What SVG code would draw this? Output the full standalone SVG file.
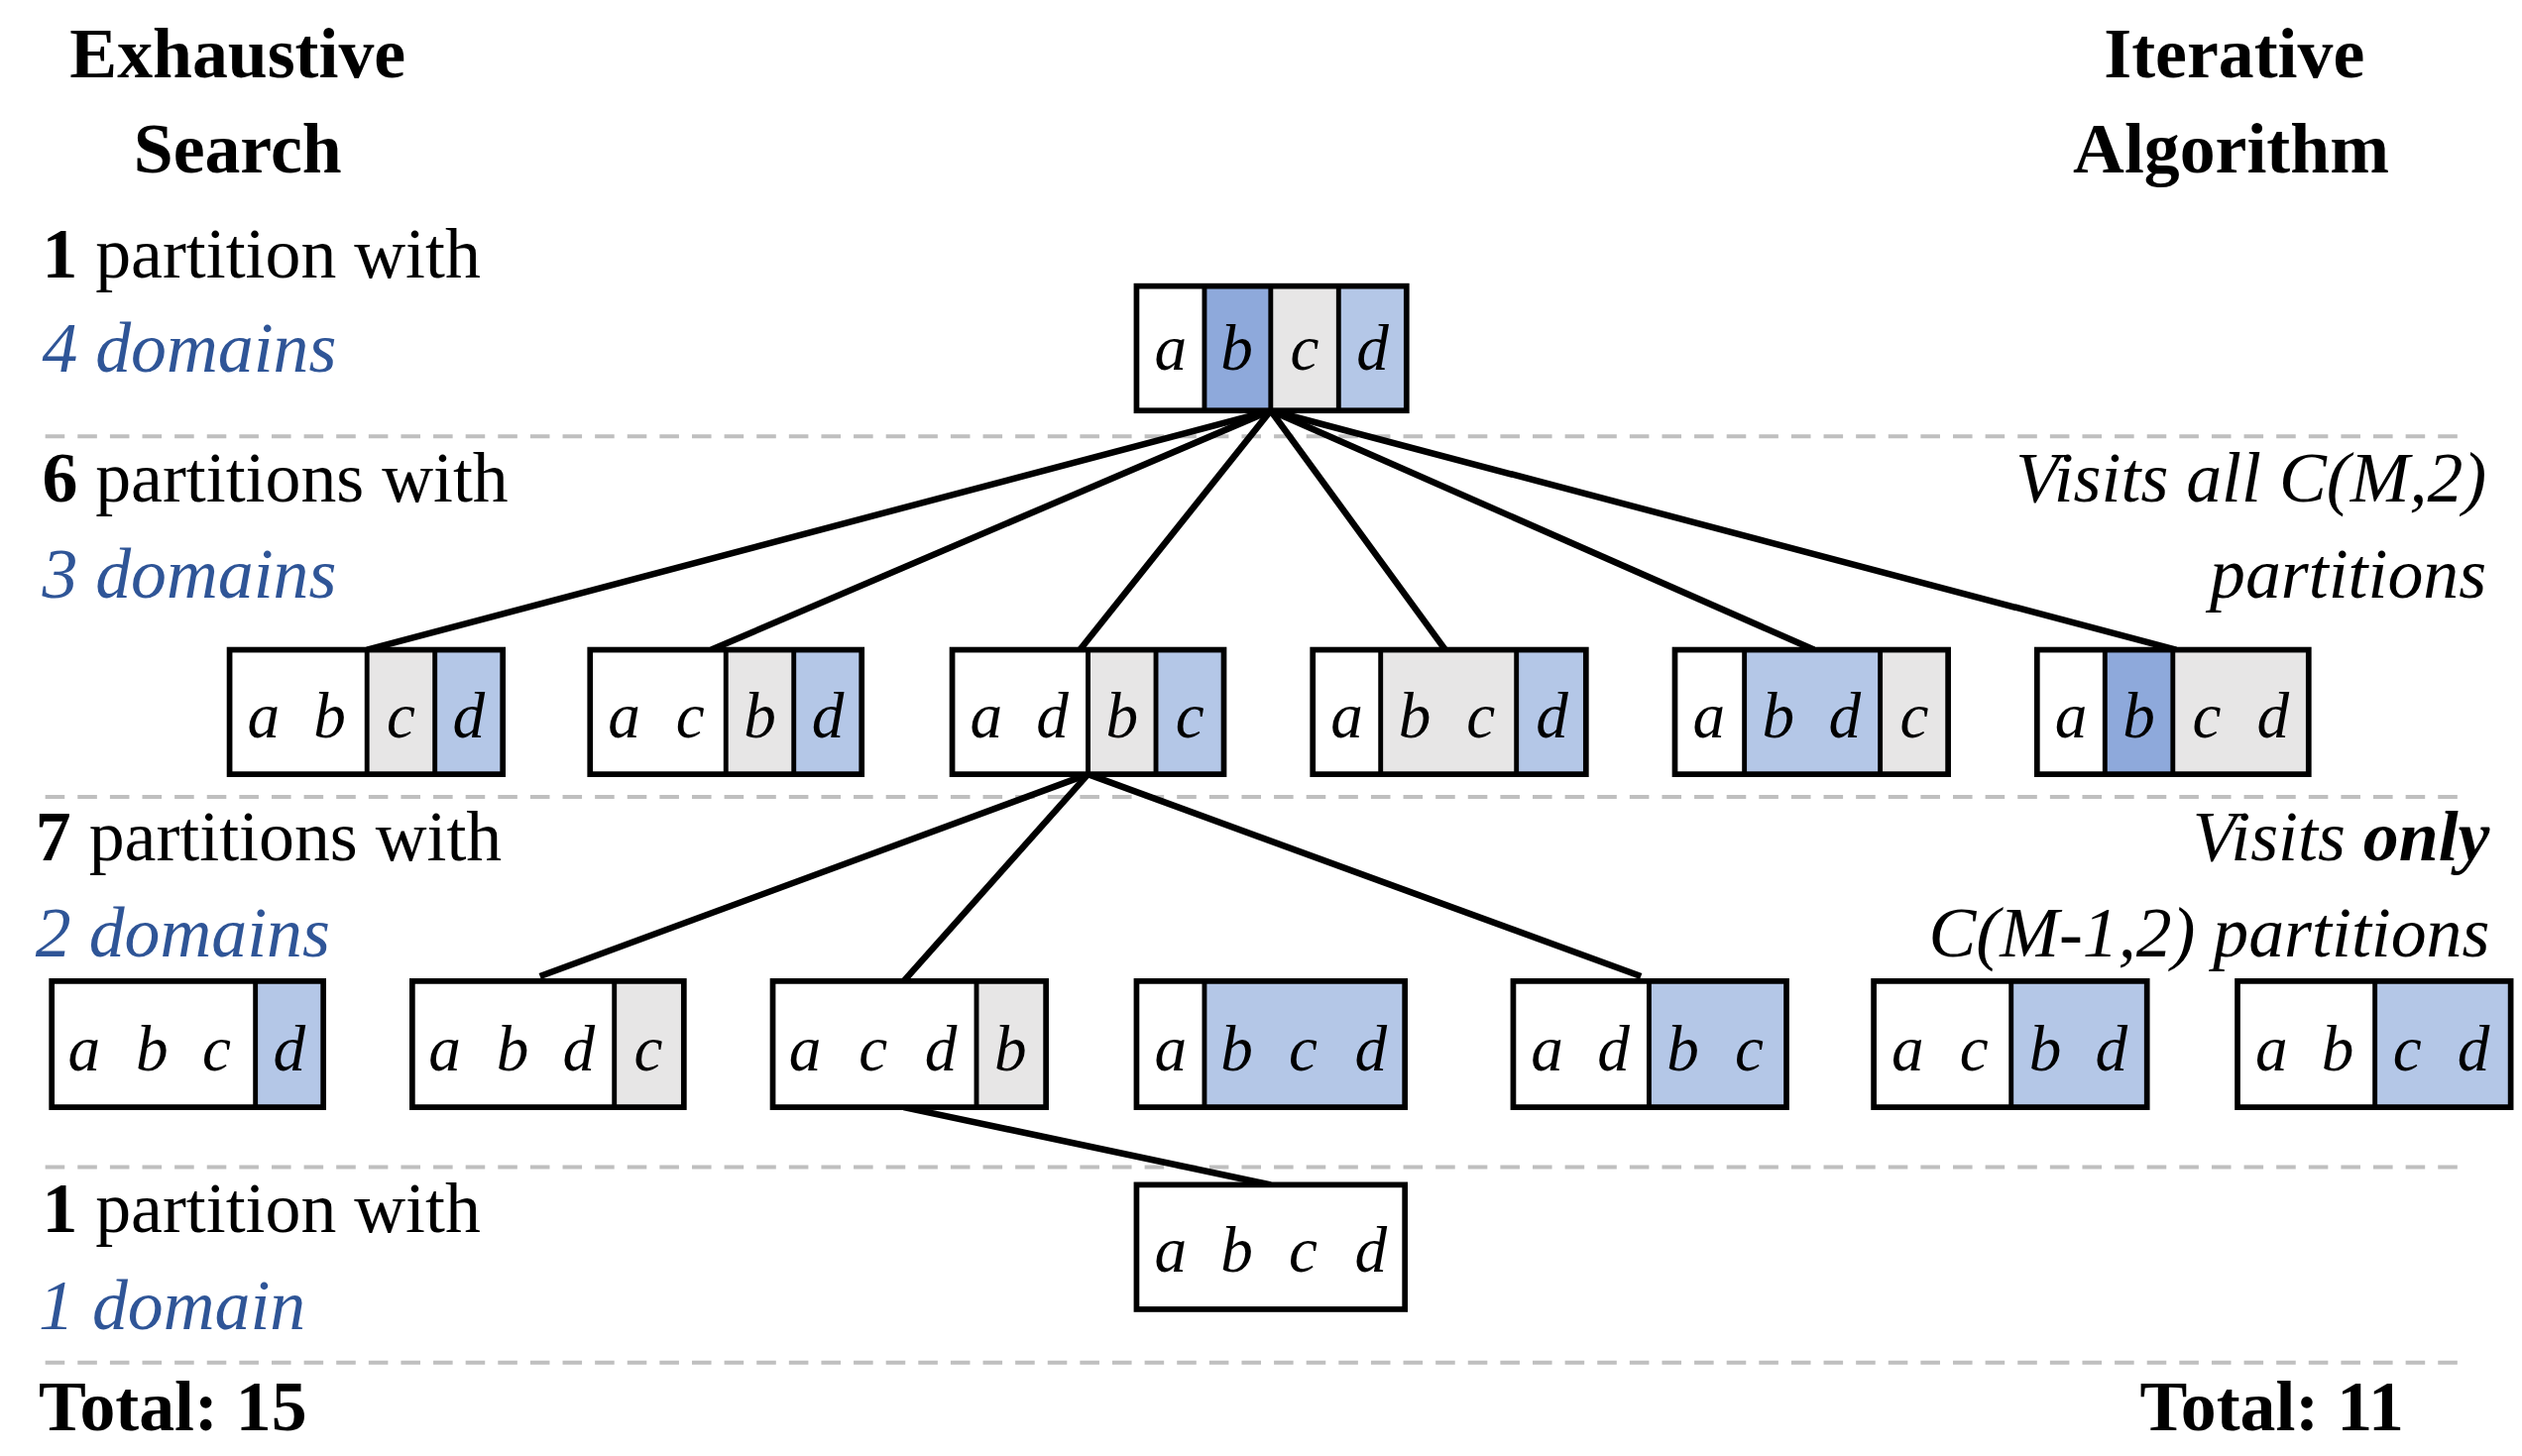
<svg xmlns="http://www.w3.org/2000/svg" width="2544" height="1469" viewBox="0 0 2544 1469">
<style>
.t{font-family:"Liberation Serif","Times New Roman",serif;font-size:44px;fill:#000}
.b{font-weight:bold}
.bl{fill:#2F5597;font-style:italic}
.i{font-style:italic}
.l{font-family:"Liberation Serif","Times New Roman",serif;font-size:40px;font-style:italic;fill:#000;text-anchor:middle}
.box{fill:none;stroke:#000;stroke-width:3.5}
.dv{stroke:#000;stroke-width:3}
.w{fill:#fff}.g{fill:#E7E6E6}.lb{fill:#B4C7E7}.db{fill:#8EA9DB}
.dash{stroke:#BFBFBF;stroke-width:2.5;stroke-dasharray:12 8}
.c{stroke:#000;stroke-width:4;fill:none}
</style>
<rect width="2544" height="1469" fill="#fff"/>
<g transform="scale(1.6308)">
<g id="separators">
<line class="dash" x1="28" y1="270" x2="1522" y2="270"/>
<line class="dash" x1="28" y1="493" x2="1522" y2="493"/>
<line class="dash" x1="28" y1="722" x2="1522" y2="722"/>
<line class="dash" x1="28" y1="843" x2="1522" y2="843"/>
</g>
<g id="labels">
<text class="t b" x="147" y="48" text-anchor="middle">Exhaustive</text>
<text class="t b" x="147" y="107" text-anchor="middle">Search</text>
<text class="t b" x="1382" y="48" text-anchor="middle">Iterative</text>
<text class="t b" x="1380" y="107" text-anchor="middle">Algorithm</text>
<text class="t" x="26" y="172"><tspan class="b">1</tspan> partition with</text>
<text class="t bl" x="26" y="230">4 domains</text>
<text class="t" x="26" y="310"><tspan class="b">6</tspan> partitions with</text>
<text class="t bl" x="26" y="370">3 domains</text>
<text class="t" x="22" y="532"><tspan class="b">7</tspan> partitions with</text>
<text class="t bl" x="22" y="592">2 domains</text>
<text class="t" x="26" y="762"><tspan class="b">1</tspan> partition with</text>
<text class="t bl" x="24" y="822">1 domain</text>
<text class="t b" x="24" y="885">Total: 15</text>
<text class="t b" x="1487" y="885" text-anchor="end">Total: 11</text>
<text class="t i" x="1538" y="310" text-anchor="end">Visits all C(M,2)</text>
<text class="t i" x="1538" y="370" text-anchor="end">partitions</text>
<text class="t i" x="1540" y="532" text-anchor="end">Visits <tspan class="b">only</tspan></text>
<text class="t i" x="1540" y="592" text-anchor="end">C(M-1,2) partitions</text>
</g>
<g id="connectors">
<line class="c" x1="786" y1="254" x2="227" y2="402"/>
<line class="c" x1="786" y1="254" x2="440" y2="402"/>
<line class="c" x1="786" y1="254" x2="668" y2="402"/>
<line class="c" x1="786" y1="254" x2="894" y2="402"/>
<line class="c" x1="786" y1="254" x2="1122" y2="402"/>
<line class="c" x1="786" y1="254" x2="1346" y2="402"/>
<line class="c" x1="673" y1="479" x2="334" y2="604"/>
<line class="c" x1="673" y1="479" x2="559" y2="607"/>
<line class="c" x1="673" y1="479" x2="1015" y2="604"/>
<line class="c" x1="559" y1="685" x2="786" y2="733"/>
</g>
<g id="n0">
<rect class="w" x="703" y="177" width="42" height="77"/><rect class="db" x="745" y="177" width="41" height="77"/><rect class="g" x="786" y="177" width="42" height="77"/><rect class="lb" x="828" y="177" width="42" height="77"/>
<rect class="box" x="703" y="177" width="167" height="77"/><line class="dv" x1="745" y1="177" x2="745" y2="254"/><line class="dv" x1="786" y1="177" x2="786" y2="254"/><line class="dv" x1="828" y1="177" x2="828" y2="254"/>
<text class="l" x="724" y="229">a</text><text class="l" x="765" y="229">b</text><text class="l" x="807" y="229">c</text><text class="l" x="849" y="229">d</text>
</g>
<g id="n1">
<rect class="w" x="142" y="402" width="85" height="77"/><rect class="g" x="227" y="402" width="42" height="77"/><rect class="lb" x="269" y="402" width="42" height="77"/>
<rect class="box" x="142" y="402" width="169" height="77"/><line class="dv" x1="227" y1="402" x2="227" y2="479"/><line class="dv" x1="269" y1="402" x2="269" y2="479"/>
<text class="l" x="163" y="456">a</text><text class="l" x="204" y="456">b</text><text class="l" x="248" y="456">c</text><text class="l" x="290" y="456">d</text>
</g>
<g id="n2">
<rect class="w" x="365" y="402" width="84" height="77"/><rect class="g" x="449" y="402" width="42" height="77"/><rect class="lb" x="491" y="402" width="42" height="77"/>
<rect class="box" x="365" y="402" width="168" height="77"/><line class="dv" x1="449" y1="402" x2="449" y2="479"/><line class="dv" x1="491" y1="402" x2="491" y2="479"/>
<text class="l" x="386" y="456">a</text><text class="l" x="427" y="456">c</text><text class="l" x="470" y="456">b</text><text class="l" x="512" y="456">d</text>
</g>
<g id="n3">
<rect class="w" x="589" y="402" width="84" height="77"/><rect class="g" x="673" y="402" width="42" height="77"/><rect class="lb" x="715" y="402" width="42" height="77"/>
<rect class="box" x="589" y="402" width="168" height="77"/><line class="dv" x1="673" y1="402" x2="673" y2="479"/><line class="dv" x1="715" y1="402" x2="715" y2="479"/>
<text class="l" x="610" y="456">a</text><text class="l" x="651" y="456">d</text><text class="l" x="694" y="456">b</text><text class="l" x="736" y="456">c</text>
</g>
<g id="n4">
<rect class="w" x="812" y="402" width="42" height="77"/><rect class="g" x="854" y="402" width="84" height="77"/><rect class="lb" x="938" y="402" width="43" height="77"/>
<rect class="box" x="812" y="402" width="169" height="77"/><line class="dv" x1="854" y1="402" x2="854" y2="479"/><line class="dv" x1="938" y1="402" x2="938" y2="479"/>
<text class="l" x="833" y="456">a</text><text class="l" x="875" y="456">b</text><text class="l" x="916" y="456">c</text><text class="l" x="960" y="456">d</text>
</g>
<g id="n5">
<rect class="w" x="1036" y="402" width="43" height="77"/><rect class="lb" x="1079" y="402" width="84" height="77"/><rect class="g" x="1163" y="402" width="42" height="77"/>
<rect class="box" x="1036" y="402" width="169" height="77"/><line class="dv" x1="1079" y1="402" x2="1079" y2="479"/><line class="dv" x1="1163" y1="402" x2="1163" y2="479"/>
<text class="l" x="1057" y="456">a</text><text class="l" x="1100" y="456">b</text><text class="l" x="1141" y="456">d</text><text class="l" x="1184" y="456">c</text>
</g>
<g id="n6">
<rect class="w" x="1260" y="402" width="42" height="77"/><rect class="db" x="1302" y="402" width="42" height="77"/><rect class="g" x="1344" y="402" width="84" height="77"/>
<rect class="box" x="1260" y="402" width="168" height="77"/><line class="dv" x1="1302" y1="402" x2="1302" y2="479"/><line class="dv" x1="1344" y1="402" x2="1344" y2="479"/>
<text class="l" x="1281" y="456">a</text><text class="l" x="1323" y="456">b</text><text class="l" x="1365" y="456">c</text><text class="l" x="1406" y="456">d</text>
</g>
<g id="m1">
<rect class="w" x="32" y="607" width="126" height="78"/><rect class="lb" x="158" y="607" width="42" height="78"/>
<rect class="box" x="32" y="607" width="168" height="78"/><line class="dv" x1="158" y1="607" x2="158" y2="685"/>
<text class="l" x="52" y="662">a</text><text class="l" x="94" y="662">b</text><text class="l" x="134" y="662">c</text><text class="l" x="179" y="662">d</text>
</g>
<g id="m2">
<rect class="w" x="255" y="607" width="125" height="78"/><rect class="g" x="380" y="607" width="43" height="78"/>
<rect class="box" x="255" y="607" width="168" height="78"/><line class="dv" x1="380" y1="607" x2="380" y2="685"/>
<text class="l" x="275" y="662">a</text><text class="l" x="317" y="662">b</text><text class="l" x="358" y="662">d</text><text class="l" x="401" y="662">c</text>
</g>
<g id="m3">
<rect class="w" x="478" y="607" width="126" height="78"/><rect class="g" x="604" y="607" width="43" height="78"/>
<rect class="box" x="478" y="607" width="169" height="78"/><line class="dv" x1="604" y1="607" x2="604" y2="685"/>
<text class="l" x="498" y="662">a</text><text class="l" x="540" y="662">c</text><text class="l" x="582" y="662">d</text><text class="l" x="625" y="662">b</text>
</g>
<g id="m4">
<rect class="w" x="703" y="607" width="42" height="78"/><rect class="lb" x="745" y="607" width="124" height="78"/>
<rect class="box" x="703" y="607" width="166" height="78"/><line class="dv" x1="745" y1="607" x2="745" y2="685"/>
<text class="l" x="724" y="662">a</text><text class="l" x="765" y="662">b</text><text class="l" x="806" y="662">c</text><text class="l" x="848" y="662">d</text>
</g>
<g id="m5">
<rect class="w" x="936" y="607" width="84" height="78"/><rect class="lb" x="1020" y="607" width="85" height="78"/>
<rect class="box" x="936" y="607" width="169" height="78"/><line class="dv" x1="1020" y1="607" x2="1020" y2="685"/>
<text class="l" x="957" y="662">a</text><text class="l" x="998" y="662">d</text><text class="l" x="1041" y="662">b</text><text class="l" x="1082" y="662">c</text>
</g>
<g id="m6">
<rect class="w" x="1159" y="607" width="85" height="78"/><rect class="lb" x="1244" y="607" width="84" height="78"/>
<rect class="box" x="1159" y="607" width="169" height="78"/><line class="dv" x1="1244" y1="607" x2="1244" y2="685"/>
<text class="l" x="1180" y="662">a</text><text class="l" x="1221" y="662">c</text><text class="l" x="1265" y="662">b</text><text class="l" x="1306" y="662">d</text>
</g>
<g id="m7">
<rect class="w" x="1384" y="607" width="85" height="78"/><rect class="lb" x="1469" y="607" width="84" height="78"/>
<rect class="box" x="1384" y="607" width="169" height="78"/><line class="dv" x1="1469" y1="607" x2="1469" y2="685"/>
<text class="l" x="1405" y="662">a</text><text class="l" x="1446" y="662">b</text><text class="l" x="1489" y="662">c</text><text class="l" x="1530" y="662">d</text>
</g>
<g id="r1">
<rect class="w box" x="703" y="733" width="166" height="77"/>
<text class="l" x="724" y="787">a</text><text class="l" x="765" y="787">b</text><text class="l" x="806" y="787">c</text><text class="l" x="848" y="787">d</text>
</g>
</g>
</svg>
